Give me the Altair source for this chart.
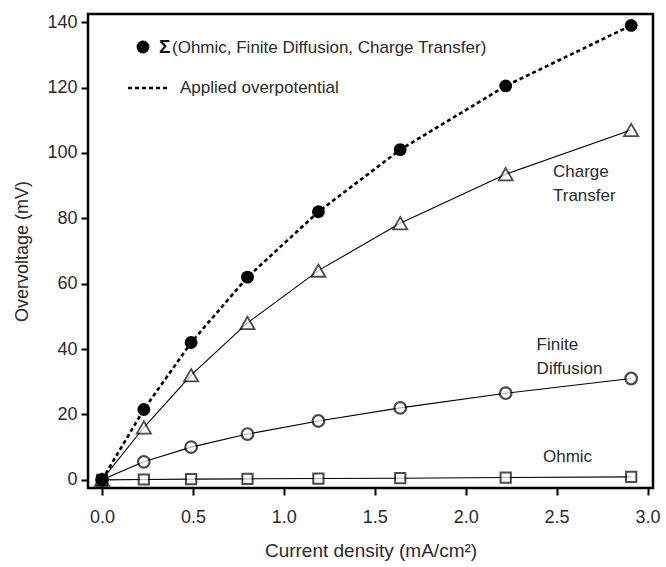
import altair as alt
import pandas as pd

# Data
current = [0.0, 0.23, 0.49, 0.80, 1.19, 1.64, 2.22, 2.91]
sum_vals = [0.0, 21.5, 42.0, 62.0, 82.0, 101.0, 120.5, 139.0]
applied = [0.0, 21.5, 42.0, 62.0, 82.0, 101.0, 120.5, 139.0]
charge_transfer = [0.0, 16.0, 32.0, 48.0, 64.0, 78.5, 93.5, 107.0]
finite_diffusion = [0.0, 5.5, 10.0, 14.0, 18.0, 22.0, 26.5, 31.0]
ohmic = [0.0, 0.1, 0.2, 0.3, 0.4, 0.5, 0.7, 0.9]

x_ticks = [0.0, 0.5, 1.0, 1.5, 2.0, 2.5, 3.0]
y_ticks = [0, 20, 40, 60, 80, 100, 120, 140]

ann_text = ["Charge\nTransfer", "Finite\nDiffusion", "Ohmic"]
ann_x = [2.48, 2.39, 2.425]
ann_y = [94.2, 41.2, 7.0]

FONT = "Liberation Sans"
TXT = "#2a2a2a"

df = pd.DataFrame({
    "x": current,
    "sum": sum_vals,
    "applied": applied,
    "ct": charge_transfer,
    "fd": finite_diffusion,
    "oh": ohmic,
})
ann = pd.DataFrame({"x": ann_x, "y": ann_y, "t": ann_text})

xs = alt.Scale(domain=[-0.077, 3.03], nice=False, zero=False)
ys = alt.Scale(domain=[-2.5, 142.5], nice=False, zero=False)

X = alt.X("x:Q", scale=xs, title="Current density (mA/cm²)",
          axis=alt.Axis(values=x_ticks, format=".1f", grid=False, domain=False,
                        tickColor="black", tickWidth=2, tickSize=7,
                        labelFont=FONT, labelFontSize=18, labelColor=TXT,
                        labelPadding=13, titleFont=FONT, titleFontSize=19,
                        titleFontWeight="normal", titleColor=TXT, titlePadding=15))

def Y(field):
    return alt.Y(f"{field}:Q", scale=ys, title="Overvoltage (mV)",
                 axis=alt.Axis(values=y_ticks, grid=False, domain=False,
                               tickColor="black", tickWidth=2, tickSize=7,
                               labelFont=FONT, labelFontSize=18, labelColor=TXT,
                               labelPadding=4, titleFont=FONT, titleFontSize=18,
                               titleFontWeight="normal", titleColor=TXT,
                               titlePadding=15))

base = alt.Chart(df)

applied_line = base.mark_line(color="black", strokeWidth=2.6, strokeDash=[4, 3]).encode(x=X, y=Y("applied"))
ct_line = base.mark_line(color="black", strokeWidth=1.1).encode(x=X, y=Y("ct"))
fd_line = base.mark_line(color="black", strokeWidth=1.1).encode(x=X, y=Y("fd"))
oh_line = base.mark_line(color="black", strokeWidth=1.1).encode(x=X, y=Y("oh"))

oh_pts = base.mark_point(shape="square", size=105, filled=True, fill="white",
                         stroke="black", strokeWidth=2).encode(x=X, y=Y("oh"))
fd_pts = base.mark_point(shape="circle", size=135, filled=True, fill="white",
                         stroke="black", strokeWidth=2.2).encode(x=X, y=Y("fd"))
ct_pts = base.mark_point(shape="triangle-up", size=200, filled=True, fill="white",
                         stroke="black", strokeWidth=1.8).encode(x=X, y=Y("ct"))
sum_pts = base.mark_point(shape="circle", size=165, filled=True, color="black",
                          opacity=1).encode(x=X, y=Y("sum"))

ann_layer = alt.Chart(ann).mark_text(align="left", baseline="middle", font=FONT,
                                     fontSize=17, color=TXT, lineBreak="\n",
                                     lineHeight=24).encode(
    x=alt.X("x:Q", scale=xs), y=alt.Y("y:Q", scale=ys), text="t:N")

one = pd.DataFrame({"a": [0]})
# Legend (pixel positions inside plot area)
leg_dot = alt.Chart(one).mark_point(
    shape="circle", size=165, filled=True, color="black", opacity=1
).encode(x=alt.value(55), y=alt.value(33))
leg_sigma = alt.Chart(one).mark_text(
    align="left", baseline="middle", font=FONT, fontSize=19, fontWeight="bold",
    color="#111", text="Σ"
).encode(x=alt.value(71), y=alt.value(33))
leg_sum_text = alt.Chart(one).mark_text(
    align="left", baseline="middle", font=FONT, fontSize=17, color=TXT,
    text="(Ohmic, Finite Diffusion, Charge Transfer)"
).encode(x=alt.value(84), y=alt.value(34))
leg_dash = alt.Chart(one).mark_rule(
    color="black", strokeWidth=2.6, strokeDash=[4, 3]
).encode(x=alt.value(40), x2=alt.value(80), y=alt.value(74))
leg_app_text = alt.Chart(one).mark_text(
    align="left", baseline="middle", font=FONT, fontSize=17, color=TXT,
    text="Applied overpotential"
).encode(x=alt.value(92), y=alt.value(74))

chart = alt.layer(
    applied_line, ct_line, fd_line, oh_line,
    oh_pts, fd_pts, ct_pts, sum_pts,
    ann_layer, leg_dot, leg_sigma, leg_sum_text, leg_dash, leg_app_text,
).properties(
    width=565, height=474,
    autosize=alt.AutoSizeParams(type="none"),
    padding={"left": 88, "top": 14, "right": 13, "bottom": 79},
    background="white",
).configure_view(stroke="black", strokeWidth=2.5)

chart.save("out.html", embed_options={"renderer": "svg", "actions": False})
